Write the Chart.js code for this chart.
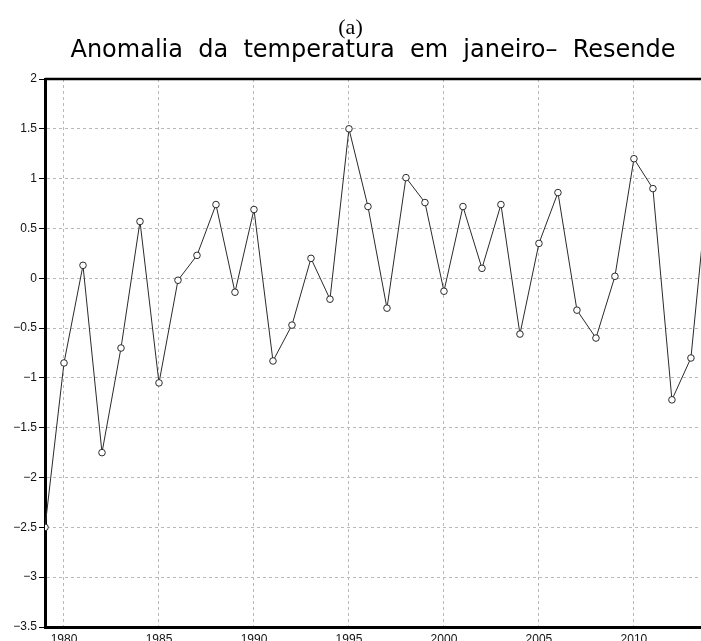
<!DOCTYPE html>
<html>
<head>
<meta charset="utf-8">
<script src="https://cdn.jsdelivr.net/npm/chart.js@4"></script>
<style>
html,body{margin:0;padding:0;background:#fff;overflow:hidden;}
#wrap{position:relative;width:701px;height:641px;}
</style>
</head>
<body>
<div id="wrap"><canvas id="c" width="701" height="641"></canvas></div>
<script>
const captionText = "(a)";
const titleText = "Anomalia  da  temperatura  em  janeiro–  Resende";
const years = [1979,1980,1981,1982,1983,1984,1985,1986,1987,1988,1989,1990,1991,1992,1993,1994,1995,1996,1997,1998,1999,2000,2001,2002,2003,2004,2005,2006,2007,2008,2009,2010,2011,2012,2013,2014];
const anomalies = [-2.5,-0.85,0.13,-1.75,-0.70,0.57,-1.05,-0.02,0.23,0.74,-0.14,0.69,-0.83,-0.47,0.20,-0.21,1.50,0.72,-0.30,1.01,0.76,-0.13,0.72,0.10,0.74,-0.56,0.35,0.86,-0.32,-0.60,0.02,1.20,0.90,-1.22,-0.80,1.15];
const xTicks = [1980,1985,1990,1995,2000,2005,2010];
const yTicks = [2,1.5,1,0.5,0,-0.5,-1,-1.5,-2,-2.5,-3,-3.5];
const xMin = 1979, xMax = 2013.53;
const yMin = -3.5, yMax = 2;

const topBorder = {
  id: 'topBorder',
  afterDraw(chart) {
    const a = chart.chartArea, ctx = chart.ctx;
    ctx.save();
    ctx.strokeStyle = '#000';
    ctx.lineWidth = 2.5;
    ctx.beginPath();
    ctx.moveTo(a.left, a.top);
    ctx.lineTo(a.right, a.top);
    ctx.stroke();
    ctx.restore();
  }
};

new Chart(document.getElementById('c'), {
  type: 'line',
  data: {
    datasets: [{
      data: years.map((y, i) => ({x: y, y: anomalies[i]})),
      borderColor: '#2a2a2a',
      borderWidth: 1,
      pointRadius: 3.3,
      pointBackgroundColor: '#fff',
      pointBorderColor: '#2a2a2a',
      pointBorderWidth: 1,
      tension: 0
    }]
  },
  options: {
    responsive: false,
    animation: false,
    layout: {padding: 0, autoPadding: false},
    plugins: {
      legend: {display: false},
      tooltip: {enabled: false},
      title: {
        display: true,
        text: captionText,
        color: '#000',
        font: {family: 'Liberation Serif', size: 22, weight: 'normal', lineHeight: 1},
        padding: {top: 17, bottom: 0}
      },
      subtitle: {
        display: true,
        fullSize: false,
        text: titleText,
        color: '#000',
        font: {family: 'DejaVu Sans', size: 24, weight: 'normal', lineHeight: 1},
        padding: {top: 0, bottom: 16}
      }
    },
    scales: {
      x: {
        type: 'linear',
        min: xMin,
        max: xMax,
        afterBuildTicks: s => { s.ticks = xTicks.map(v => ({value: v})); },
        afterFit: s => { s.height = 14; s.paddingLeft = 0; s.paddingRight = 0; },
        ticks: {
          color: '#111',
          font: {family: 'Liberation Sans', size: 12},
          padding: 5,
          maxRotation: 0,
          callback: v => String(v)
        },
        grid: {color: '#b8b8b8', lineWidth: 1, drawTicks: false},
        border: {display: true, color: '#000', width: 3, dash: [3, 3]}
      },
      y: {
        type: 'linear',
        min: yMin,
        max: yMax,
        afterBuildTicks: s => { s.ticks = yTicks.map(v => ({value: v})); },
        afterFit: s => { s.width = 45; s.paddingTop = 0; s.paddingBottom = 0; },
        ticks: {
          color: '#111',
          font: {family: 'Liberation Sans', size: 12},
          padding: 2,
          callback: v => String(v).replace('-', '\u2212')
        },
        grid: {color: '#b8b8b8', lineWidth: 1, drawTicks: true, tickLength: 6, tickColor: '#000', tickBorderDash: []},
        border: {display: true, color: '#000', width: 3, dash: [3, 3]}
      }
    }
  },
  plugins: [topBorder]
});
</script>
</body>
</html>
